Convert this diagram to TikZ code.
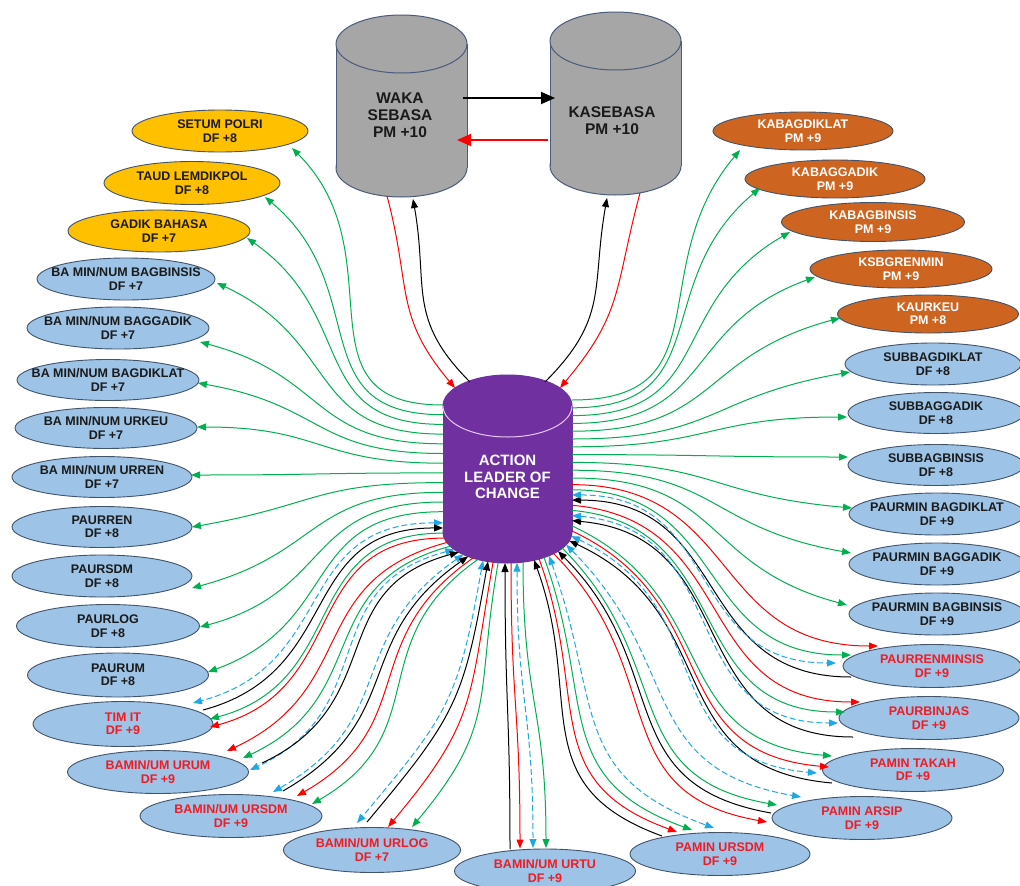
\documentclass[tikz,border=0pt]{standalone}
\usepackage{fontspec}
\setmainfont{Liberation Sans}
\usetikzlibrary{shapes.geometric,arrows.meta,calc}
\definecolor{grn}{HTML}{00B050}
\definecolor{rd}{HTML}{FF0000}
\definecolor{blu}{HTML}{1FA8E6}
\definecolor{goldc}{HTML}{FFC000}
\definecolor{orng}{HTML}{CD6420}
\definecolor{lblue}{HTML}{9DC3E6}
\definecolor{bord}{HTML}{41546C}
\definecolor{purp}{HTML}{7030A0}
\definecolor{gry}{HTML}{A6A6A6}
\definecolor{cylb}{HTML}{4A5C7A}
\definecolor{lpink}{HTML}{E8C8F0}
\definecolor{txtk}{HTML}{1A1A1A}
\definecolor{redtxt}{HTML}{F01C24}
\tikzset{
  ell/.style={ellipse, draw=bord, line width=0.9pt, inner sep=0pt},
  goldf/.style={fill=goldc},
  bluef/.style={fill=lblue},
  orf/.style={fill=orng},
  lbl/.style={inner sep=0pt, align=center, font=\fontsize{12.5}{13.5}\selectfont\bfseries},
  dk/.style={text=txtk},
  wt/.style={text=white},
  rt/.style={text=redtxt},
  cylbox/.style={rectangle, inner sep=0pt, outer sep=0pt},
  cyltxt/.style={inner sep=0pt, align=center, text=txtk, font=\fontsize{15.5}{17}\selectfont\bfseries},
  con/.style={line width=1pt},
  kcon/.style={con, black, <-},
  rcon/.style={con, rd, ->},
  gcon/.style={con, grn, ->},
  bcon/.style={con, blu, dash pattern=on 6pt off 3pt, <->},
  kto/.style={con, black, ->},
  rto/.style={con, rd, ->},
  bigarr/.style={line width=1.8pt, -{Triangle[length=14pt,width=12pt]}}
}
\newcommand\mkell[7]{%
  \node[ell,#1,minimum width=#5pt,minimum height=#6pt] (#3) at (#4) {};
  \node[lbl,#2] (#3t) at (#3) {#7};}
\newcommand\cylshape[5]{%
  \path[fill=#2,draw=#3,line width=1pt] ($(#1.south)+(0,-#5)$) ellipse [x radius=#4pt, y radius=#5pt];
  \fill[#2] ($(#1.south west)+(0,-#5)$) rectangle ($(#1.north east)+(0,#5)$);
  \draw[#3,line width=1pt] ($(#1.south west)+(0,-#5)$) -- ($(#1.north west)+(0,#5)$)
                           ($(#1.south east)+(0,-#5)$) -- ($(#1.north east)+(0,#5)$);
  \path[fill=#2,draw=#3,line width=1pt] ($(#1.north)+(0,#5)$) ellipse [x radius=#4pt, y radius=#5pt];}
\begin{document}
\begin{tikzpicture}[x=1pt,y=-1pt,>={Triangle[length=9pt,width=7pt]}]
\useasboundingbox (0,0) rectangle (1020,886);
\fill[white] (0,0) rectangle (1020,886);

% cylinders
\node[cylbox,minimum width=131pt,minimum height=182pt] (waka) at (401.5,106) {};
\node[cylbox,minimum width=131pt,minimum height=183pt] (kas) at (615.5,103.5) {};
\node[cylbox,minimum width=129pt,minimum height=188pt] (act) at (507.5,469) {};
\cylshape{waka}{gry}{cylb}{65.5}{29}
\cylshape{kas}{gry}{cylb}{65.5}{29}
\cylshape{act}{purp}{purp}{64.5}{31}
\draw[lpink,line width=1pt] ($(act.north west)+(0,31)$) arc[start angle=180,end angle=360,x radius=64.5pt,y radius=31pt];
\node[cyltxt] (wakat) at ($(waka)+(-1.5,9)$) {WAKA\\SEBASA\\PM +10};
\node[cyltxt] (kast) at ($(kas)+(-3.5,17.5)$) {KASEBASA\\PM +10};
\node[cyltxt,text=white,font=\fontsize{15}{16.5}\selectfont\bfseries] (actt) at ($(act)+(0,8)$) {ACTION\\LEADER OF\\CHANGE};

% ellipses
\mkell{goldf}{dk}{setum}{220,131}{176}{42}{SETUM POLRI\\DF +8}
\mkell{goldf}{dk}{taud}{192,183}{176}{43}{TAUD LEMDIKPOL\\DF +8}
\mkell{goldf}{dk}{gadik}{159,231}{182}{42}{GADIK BAHASA\\DF +7}
\mkell{bluef}{dk}{bagbin}{126,279}{178}{42}{BA MIN/NUM BAGBINSIS\\DF +7}
\mkell{bluef}{dk}{baggad}{118,328}{182}{42}{BA MIN/NUM BAGGADIK\\DF +7}
\mkell{bluef}{dk}{bagdik}{108,380}{182}{41}{BA MIN/NUM BAGDIKLAT\\DF +7}
\mkell{bluef}{dk}{urkeu}{106,428}{182}{41}{BA MIN/NUM URKEU\\DF +7}
\mkell{bluef}{dk}{urren}{102,477}{180}{41}{BA MIN/NUM URREN\\DF +7}
\mkell{bluef}{dk}{paurren}{102,527}{180}{41}{PAURREN\\DF +8}
\mkell{bluef}{dk}{paursdm}{102,576}{180}{42}{PAURSDM\\DF +8}
\mkell{bluef}{dk}{paurlog}{108,626}{183}{43}{PAURLOG\\DF +8}
\mkell{bluef}{dk}{paurum}{118,675}{181}{44}{PAURUM\\DF +8}
\mkell{bluef}{rt}{timit}{123,724}{180}{45}{TIM IT\\DF +9}
\mkell{bluef}{rt}{urum}{158,772}{181}{43}{BAMIN/UM URUM\\DF +9}
\mkell{bluef}{rt}{bursdm}{231,816}{182}{43}{BAMIN/UM URSDM\\DF +9}
\mkell{bluef}{rt}{urlog}{372,850}{177}{45}{BAMIN/UM URLOG\\DF +7}
\mkell{bluef}{rt}{urtu}{545,871}{181}{44}{BAMIN/UM URTU\\DF +9}
\mkell{bluef}{rt}{pursdm}{720,854}{180}{43}{PAMIN URSDM\\DF +9}
\mkell{bluef}{rt}{arsip}{862,818}{180}{43}{PAMIN ARSIP\\DF +9}
\mkell{bluef}{rt}{takah}{913,770}{181}{43}{PAMIN TAKAH\\DF +9}
\mkell{bluef}{rt}{binjas}{929,718}{180}{43}{PAURBINJAS\\DF +9}
\mkell{bluef}{rt}{renmin}{932,666}{178}{43}{PAURRENMINSIS\\DF +9}
\mkell{bluef}{dk}{subdik}{933,364}{176}{42}{SUBBAGDIKLAT\\DF +8}
\mkell{bluef}{dk}{subgad}{936,413}{176}{41}{SUBBAGGADIK\\DF +8}
\mkell{bluef}{dk}{subbin}{936,465}{176}{41}{SUBBAGBINSIS\\DF +8}
\mkell{bluef}{dk}{pmdik}{937,514}{176}{42}{PAURMIN BAGDIKLAT\\DF +9}
\mkell{bluef}{dk}{pmgad}{937,564}{176}{42}{PAURMIN BAGGADIK\\DF +9}
\mkell{bluef}{dk}{pmbin}{937,614}{176}{42}{PAURMIN BAGBINSIS\\DF +9}
\mkell{orf}{wt}{kdik}{803,131}{180}{38}{KABAGDIKLAT\\PM +9}
\mkell{orf}{wt}{kgad}{835,179}{180}{38}{KABAGGADIK\\PM +9}
\mkell{orf}{wt}{kbin}{873,222}{183}{39}{KABAGBINSIS\\PM +9}
\mkell{orf}{wt}{ksbg}{901,269}{182}{38}{KSBGRENMIN\\PM +9}
\mkell{orf}{wt}{kaur}{928,314}{181}{38}{KAURKEU\\PM +8}

% top connectors
\draw[bigarr,black] ($(waka)+(61.5,-8)$) -- ($(kas)+(-60.5,-5.5)$);
\draw[bigarr,rd] ($(kas)+(-67.5,36.5)$) -- ($(waka)+(55.5,34)$);
\draw[rto] ($(waka)+(-14.5,90)$) to[out=-75,in=130,looseness=1.2] ($(act)+(-52.5,-81)$);
\draw[kto] ($(act)+(-37.5,-87)$) to[out=135,in=-80,looseness=1.2] ($(waka)+(11.5,93)$);
\draw[kto] ($(act)+(37.5,-87)$) to[out=45,in=-100,looseness=1.2] ($(kas)+(-8.5,94.5)$);
\draw[rto] ($(kas)+(24.5,89.5)$) to[out=-105,in=50,looseness=1.2] ($(act)+(52.5,-81)$);

% left green
\foreach \sy/\nn/\ex/\ey/\ia in {-64/setum/72/17/-45, -54.3/taud/73/14/-40, -44.6/gadik/88/7/-35,
  -34.9/bagbin/91/4/-25, -25.2/baggad/82/14/-15, -15.5/bagdik/90/3/-10, -5.8/urkeu/91/-1/0,
  3.9/urren/89/-2/0, 13.6/paurren/90/0/10, 23.3/paursdm/90/12/15, 33/paurlog/92/1/15, 42.7/paurum/90/-3/20}
  \draw[gcon] ($(act)+(-64.5,\sy)$) to[out=180,in=\ia,looseness=1.3] ($(\nn)+(\ex,\ey)$);

% right green
\foreach \sy/\nn/\ex/\ey/\ia in {-69/kdik/-63/19/-130, -61.2/kgad/-75/9/-140, -53.4/kbin/-83/10/-150,
  -45.6/ksbg/-86/8/-160, -37.8/kaur/-88/4/-165, -30/subdik/-83/8/-170, -22.2/subgad/-89/4/180,
  -14.4/subbin/-88/-8/180, -6.6/pmdik/-85/-6/175, 1.2/pmgad/-86/-11/170, 9/pmbin/-90/-9/165}
  \draw[gcon] ($(act)+(64.5,\sy)$) to[out=0,in=\ia,looseness=1.3] ($(\nn)+(\ex,\ey)$);

% bottom bundles
\foreach \st/\sx/\sy/\oa/\nn/\ex/\ey/\ia in {
 bcon/-64.5/53.8/180/timit/70/-21/15, kcon/-64.5/58.95/180/timit/80/-14/15,
 gcon/-64.3/64.1/180/timit/87/-5/15, rcon/-63.1/69.1/180/timit/87/3/15,
 rcon/-60.65/73.5/195/urum/69/-21/25, gcon/-57.1/77.2/195/urum/85/-14/25,
 bcon/-53.1/80.4/195/urum/92/-2/25, kcon/-48.7/83.2/195/urum/104/-9/25,
 bcon/-44.1/85.4/215/bursdm/42/-24/30, kcon/-39.4/87.4/215/bursdm/52/-25/30,
 rcon/-34.5/89/215/bursdm/66/-20/30, gcon/-29.5/90.4/215/bursdm/81/-12/30,
 bcon/-24.5/91.5/260/urlog/-15/-27/50, kcon/-19.5/92.4/260/urlog/-5/-28/50,
 rcon/-14.4/93.1/260/urlog/16/-23/50, gcon/-9.3/93.6/260/urlog/40/-23/50,
 kcon/-2.5/94/-90/urtu/-35/-22/90, rcon/3.5/94/-90/urtu/-25/-22.5/90,
 bcon/9.5/93.7/-90/urtu/-12/-23/90, gcon/15.5/93.1/-90/urtu/1/-23/90,
 kcon/26.6/91.1/-70/pursdm/-58/-18/160, rcon/31.6/89.9/-70/pursdm/-43/-22/160,
 gcon/36.5/88.4/-70/pursdm/-28/-24/160, bcon/41.4/86.8/-70/pursdm/-6/-26/160,
 rcon/46/84.5/-45/arsip/-95/4/170, kcon/50.5/82.2/-45/arsip/-91/-5/170,
 gcon/54.8/79.2/-45/arsip/-85/-13/170, bcon/58.6/75.7/-45/arsip/-61/-21/170,
 kcon/61.7/71.7/-25/takah/-81/13/175, bcon/63.7/67.1/-25/takah/-96/3/175,
 rcon/64.5/62/-25/takah/-84/-3/175, gcon/64.5/56.85/-25/takah/-81/-14/175,
 kcon/64.5/51.7/-5/binjas/-76/19/180, bcon/64.5/46.55/-5/binjas/-91/5/180,
 gcon/64.5/41.4/-5/binjas/-84/-6/180, rcon/64.5/36.25/-5/binjas/-69/-16/180,
 kcon/64.5/31.1/0/renmin/-81/11/180, bcon/64.5/25.95/0/renmin/-96/-3/180,
 gcon/64.5/20.8/0/renmin/-81/-11/180, rcon/64.5/15.65/0/renmin/-54/-20/180}
 \draw[\st] ($(act)+(\sx,\sy)$) to[out=\oa,in=\ia,looseness=1.25] ($(\nn)+(\ex,\ey)$);
\end{tikzpicture}
\end{document}
